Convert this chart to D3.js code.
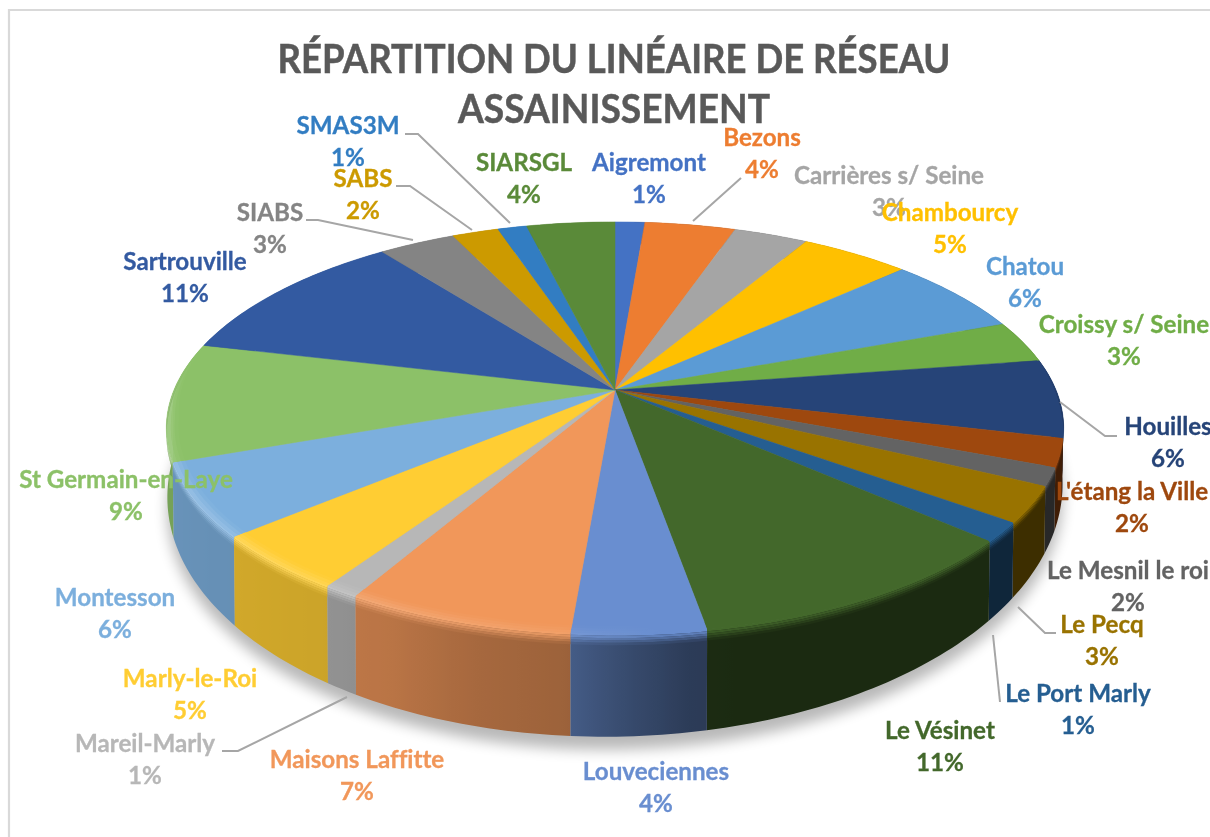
<!DOCTYPE html>
<html><head><meta charset="utf-8">
<script src="https://cdn.jsdelivr.net/npm/d3@7/dist/d3.min.js"></script>
<style>html,body{margin:0;padding:0;background:#fff;overflow:hidden}svg{display:block;filter:blur(.5px)}text{font-family:Lato,"Open Sans",sans-serif;font-weight:700;font-variant-ligatures:none}</style>
</head><body><svg id="c" width="1210" height="837"></svg>
<script>
// ---- data
const communes = ["Aigremont","Bezons","Carrières s/ Seine","Chambourcy","Chatou","Croissy s/ Seine","Houilles","L'étang la Ville","Le Mesnil le roi","Le Pecq","Le Port Marly","Le Vésinet","Louveciennes","Maisons Laffitte","Mareil-Marly","Marly-le-Roi","Montesson","St Germain-en-Laye","Sartrouville","SIABS","SABS","SMAS3M","SIARSGL"];
const shares = [1.28,3.9,3.2,4.7,6.2,3.3,6.15,2.2,1.4,2.8,1.5,10.65,4.05,6.92,1.08,4.45,5.7,9.3,10.9,3.3,2,1.25,3.8];
const percentLabels = ["1%","4%","3%","5%","6%","3%","6%","2%","2%","3%","1%","11%","4%","7%","1%","5%","6%","9%","11%","3%","2%","1%","4%"];
const titleLines = ["RÉPARTITION DU LINÉAIRE DE RÉSEAU","ASSAINISSEMENT"];
// ---- styles and layout
const titleWidths = [673,312];
const colors = ["#4472c4","#ed7d31","#a5a5a5","#ffc000","#5b9bd5","#70ad47","#264478","#9e480e","#636363","#997300","#255e91","#43682b","#698ed0","#f1975a","#b7b7b7","#ffcd33","#7cafdd","#8cc168","#335aa1","#848484","#cc9a00","#327dc2","#5a8a39"];
const labelCenters = [[649,163],[762,138],[889,176],[950,213],[1025,267],[1124,325],[1168,427],[1132,492],[1128,571],[1102,625],[1078,694],[940,731],[656,772],[357,760],[145,744],[190,679],[115,598],[126,480],[185,262],[270,213],[363,179],[348,126],[524,163]];
const leaders = [
 [[741,178],[693,221]],
 [[1060,402],[1105,436],[1117,436]],
 [[1018,607],[1045,633],[1056,633]],
 [[993,635],[1000,702]],
 [[347,697],[238,751],[222,751]],
 [[306,220],[318,220],[413,240]],
 [[396,186],[410,186],[472,230]],
 [[405,134],[418,134],[510,223]]
];
const K = 0.184, TILT = -7;
const xTop = d3.scaleLinear().domain([-1,1]).range([615-441,615+441]);
const yTop = d3.scaleLinear().domain([-1,1]).range([390-199,390+199]);
const xBot = d3.scaleLinear().domain([-1,1]).range([615-440,615+440]);
const yBot = d3.scaleLinear().domain([-1,1]).range([445-238,445+238]);
const wallShade = d3.scaleLinear().domain([90,105,165,172,180,185,195,205,215,230,250,280]).range([.45,.40,.40,.42,.55,.65,.69,.77,.8,.82,.84,.85]).clamp(true);
const highlight = d3.scaleLinear().domain([150,175,185,205,240,280]).range([0,0,.08,.15,.25,.22]).clamp(true);
const taper = d3.scaleLinear().domain([78,100,262,284]).range([0,1,1,0]).clamp(true);

function project(a,r,z){
  const u=r*Math.sin(a), v=-r*Math.cos(a), w=1-K*v;
  const x0=xTop(u/w), y0=yTop(v/w), x1=xBot(u/w), y1=yBot(v/w)+TILT*u;
  return [x0+(x1-x0)*z, y0+(y1-y0)*z];
}
const deg=a=>a*180/Math.PI;
const line=d3.line().curve(d3.curveLinearClosed);
const svg=d3.select("#c");
const defs=svg.append("defs");
defs.append("filter").attr("id","sh").attr("x","-10%").attr("y","-10%").attr("width","120%").attr("height","120%")
  .append("feGaussianBlur").attr("stdDeviation",7);
function shadeOf(c,f){const r=d3.rgb(c);return d3.rgb(r.r*f,r.g*f,r.b*f).formatHex();}

// frame
svg.append("path").attr("d","M1230,10H9V860").attr("fill","none").attr("stroke","#d9d9d9").attr("stroke-width",2.2);
// title
svg.append("g").selectAll("text").data(titleLines).join("text")
  .attr("x",614).attr("y",(d,i)=>73+i*50).attr("text-anchor","middle")
  .attr("font-size",40).attr("textLength",(d,i)=>titleWidths[i]).attr("lengthAdjust","spacingAndGlyphs")
  .attr("fill","#595959").attr("stroke","#595959").attr("stroke-width",.5).text(d=>d);

const arcs=d3.pie().sort(null).value(d=>d)(shares);
const STEP=Math.PI/180;
const stepsOf=(a0,a1)=>{const n=Math.max(1,Math.ceil((a1-a0)/STEP));return d3.range(n+1).map(i=>a0+(a1-a0)*i/n);};

// horizontal gradient along a slice, colour given per angle
let gid=0;
function gradient(s,colorAt){
  const id="g"+(gid++);
  const xa=project(s.startAngle,1,.5)[0], xb=project(s.endAngle,1,.5)[0];
  const g=defs.append("linearGradient").attr("id",id).attr("gradientUnits","userSpaceOnUse")
    .attr("x1",xa).attr("x2",xb).attr("y1",0).attr("y2",0);
  const st=stepsOf(s.startAngle,s.endAngle);
  st.forEach(a=>{
    const x=project(a,1,.5)[0];
    const off=xb===xa?0:Math.max(0,Math.min(1,(x-xa)/(xb-xa)));
    g.append("stop").attr("offset",off).attr("stop-color",colorAt(a));
  });
  return "url(#"+id+")";
}

// shadow
const full=d3.range(0,361,3).map(d=>d*Math.PI/180);
svg.append("path").attr("d",line(full.map(a=>{const p=project(a,1,1);return [p[0],p[1]+13];})))
  .attr("fill","#000").attr("opacity",.28).attr("filter","url(#sh)");

// walls, back to front
const wallOrder=arcs.map((s,i)=>({s,i,v:-Math.cos((s.startAngle+s.endAngle)/2)})).sort((p,q)=>p.v-q.v);
svg.append("g").selectAll("path").data(wallOrder).join("path")
  .attr("d",d=>{const st=stepsOf(d.s.startAngle,d.s.endAngle);
    return line(st.map(a=>project(a,1,0)).concat(st.slice().reverse().map(a=>project(a,1,1))));})
  .attr("fill",d=>gradient(d.s,a=>shadeOf(colors[d.i],wallShade(deg(a)))));

// top faces
svg.append("g").selectAll("path").data(arcs).join("path")
  .attr("d",s=>line([[xTop(0),yTop(0)]].concat(stepsOf(s.startAngle,s.endAngle).map(a=>project(a,1,0)))))
  .attr("fill",(s,i)=>colors[i]).attr("stroke",(s,i)=>colors[i]).attr("stroke-width",.5);

// bevel: strips between top face and wall
const STR=8, bev=[];
const bevelPos=(ang,t)=>{const tpa=taper(deg(ang));
  return t<.4? project(ang,1-.026*tpa*(1-t/.4),0) : project(ang,1,.11*tpa*(t-.4)/.6);};
arcs.forEach((s,i)=>{
  if(taper(deg(s.startAngle))<=0 && taper(deg(s.endAngle))<=0) return;
  const st=stepsOf(s.startAngle,s.endAngle);
  d3.range(STR).forEach(j=>{
    const t0=j/STR,t1=(j+1)/STR,tm=(t0+t1)/2;
    const colAt=a=>{const dm=deg(a),wall=shadeOf(colors[i],wallShade(dm));
      const hi=d3.interpolateRgb(colors[i],"#ffffff")(highlight(dm));
      const blend=taper(dm);
      const c=tm<.45?d3.interpolateRgb(colors[i],hi)(tm/.45):d3.interpolateRgb(hi,wall)((tm-.45)/.55);
      return d3.rgb(d3.interpolateRgb(colors[i],c)(blend)).formatHex();};
    bev.push({pts:st.map(a=>bevelPos(a,t0)).concat(st.slice().reverse().map(a=>bevelPos(a,t1))),
      fill:gradient(s,colAt)});
  });
});
svg.append("g").selectAll("path").data(bev).join("path")
  .attr("d",d=>line(d.pts)).attr("fill",d=>d.fill);

// leaders
svg.append("g").selectAll("path").data(leaders).join("path")
  .attr("d",d3.line()).attr("fill","none").attr("stroke","#a6a6a6").attr("stroke-width",2);

// labels
const lab=svg.append("g").selectAll("g").data(communes).join("g");
const labelStyle=sel=>sel.attr("x",(d,i)=>labelCenters[i][0]).attr("text-anchor","middle").attr("font-size",24.2)
  .attr("fill",(d,i)=>colors[i]).attr("stroke",(d,i)=>colors[i]).attr("stroke-width",.3);
lab.append("text").call(labelStyle).attr("y",(d,i)=>labelCenters[i][1]+8).text(d=>d);
lab.append("text").call(labelStyle).attr("y",(d,i)=>labelCenters[i][1]+40).text((d,i)=>percentLabels[i]);
</script></body></html>
